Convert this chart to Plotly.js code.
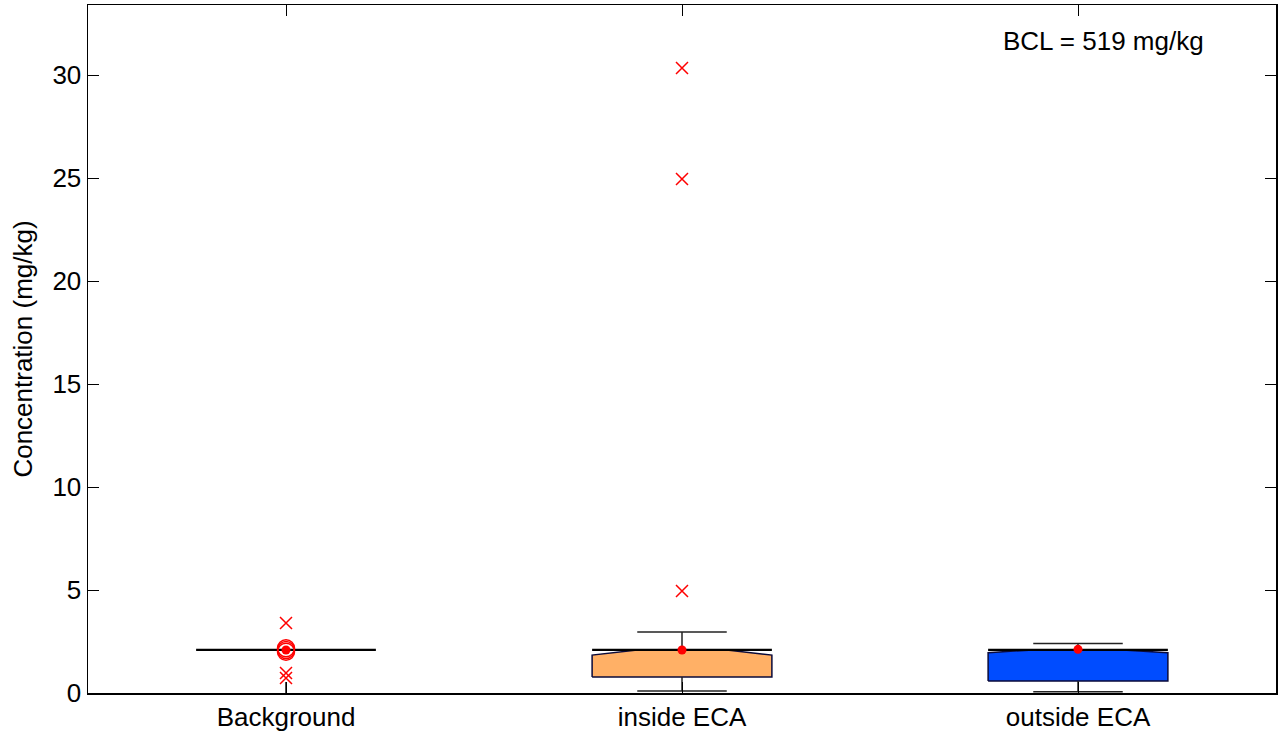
<!DOCTYPE html>
<html>
<head>
<meta charset="utf-8">
<script src="https://cdn.plot.ly/plotly-3.0.1.min.js"></script>
<style>html,body{margin:0;padding:0;background:#fff;}#chart{width:1278px;height:736px;}</style>
</head>
<body>
<div id="chart"></div>
<script>
// ---- data ----
const categories = ["Background", "inside ECA", "outside ECA"];
const q1        = [2.09, 0.78, 0.58];
const notchLo   = [2.09, 1.84, 1.96];
const median    = [2.09, 2.09, 2.09];
const whiskerLo = [0.53, 0.10, 0.06];
const whiskerHi = [2.09, 2.96, 2.40];
const means     = [2.09, 2.09, 2.12];
const outlierX  = [1, 1, 1, 2, 2, 2];
const outlierY  = [3.40, 0.97, 0.73, 4.95, 24.95, 30.34];
const circleX   = [1, 1, 1];
const circleY   = [2.17, 2.09, 2.00];
const fills     = [null, "#ffb066", "#004cff"];
const bclText   = "BCL = 519 mg/kg";

// ---- geometry (styles) ----
const hw = 0.227;   // box half width
const nw = 0.113;   // notch / cap half width
const traces = [];

for (let i = 0; i < categories.length; i++) {
  const c = i + 1;
  if (fills[i]) {
    traces.push({
      x: [c - hw, c - hw, c - nw, c + nw, c + hw, c + hw, c - hw],
      y: [q1[i], notchLo[i], median[i], median[i], notchLo[i], q1[i], q1[i]],
      mode: "lines", fill: "toself", fillcolor: fills[i],
      line: {color: "#0a0a3a", width: 1.5}, hoverinfo: "skip", showlegend: false
    });
    traces.push({
      x: [c, c, null, c - nw, c + nw],
      y: [median[i], whiskerHi[i], null, whiskerHi[i], whiskerHi[i]],
      mode: "lines", line: {color: "#222", width: 1.5}, hoverinfo: "skip", showlegend: false
    });
    traces.push({
      x: [c, c, null, c - nw, c + nw],
      y: [q1[i], whiskerLo[i], null, whiskerLo[i], whiskerLo[i]],
      mode: "lines", line: {color: "#222", width: 1.5}, hoverinfo: "skip", showlegend: false
    });
  } else {
    traces.push({
      x: [c, c], y: [whiskerLo[i], 0],
      mode: "lines", line: {color: "#111", width: 1.5}, hoverinfo: "skip", showlegend: false
    });
  }
  traces.push({
    x: [c - hw, c + hw], y: [median[i], median[i]],
    mode: "lines", line: {color: "#000", width: 2.2}, hoverinfo: "skip", showlegend: false
  });
}

traces.push({
  x: circleX, y: circleY, mode: "markers",
  marker: {symbol: "circle-open", size: 17, color: "red", line: {color: "red", width: 1.5}},
  hoverinfo: "skip", showlegend: false
});
traces.push({
  x: outlierX, y: outlierY, mode: "markers",
  marker: {symbol: "x-thin-open", size: 12, color: "red", line: {color: "red", width: 1.5}},
  hoverinfo: "skip", showlegend: false
});
traces.push({
  x: [1, 2, 3], y: means, mode: "markers",
  marker: {symbol: "circle", size: 9, color: "red"},
  hoverinfo: "skip", showlegend: false
});

const font = {family: "Liberation Sans, Arial, sans-serif", size: 26, color: "#000"};
const layout = {
  width: 1278, height: 736,
  margin: {l: 88, r: 2, t: 5, b: 43},
  paper_bgcolor: "#fff", plot_bgcolor: "#fff",
  font: font,
  showlegend: false,
  xaxis: {
    range: [0.5, 3.5], tickvals: [1, 2, 3], ticktext: categories,
    ticks: "inside", ticklen: 11, tickcolor: "#000", tickwidth: 1,
    showline: true, linecolor: "#000", linewidth: 1.5, mirror: "ticks",
    showgrid: false, zeroline: false, tickfont: font
  },
  yaxis: {
    range: [0, 33.4], tickvals: [0, 5, 10, 15, 20, 25, 30],
    ticks: "inside", ticklen: 11, tickcolor: "#000", tickwidth: 1,
    showline: true, linecolor: "#000", linewidth: 1.5, mirror: "ticks",
    showgrid: false, zeroline: false, tickfont: font,
    title: {text: "Concentration (mg/kg)", font: font, standoff: 12}
  },
  annotations: [{
    text: bclText, xref: "paper", yref: "paper", x: 0.855, y: 0.948,
    xanchor: "center", yanchor: "middle", showarrow: false, font: font
  }]
};

Plotly.newPlot("chart", traces, layout, {staticPlot: true, displayModeBar: false});
</script>
</body>
</html>
